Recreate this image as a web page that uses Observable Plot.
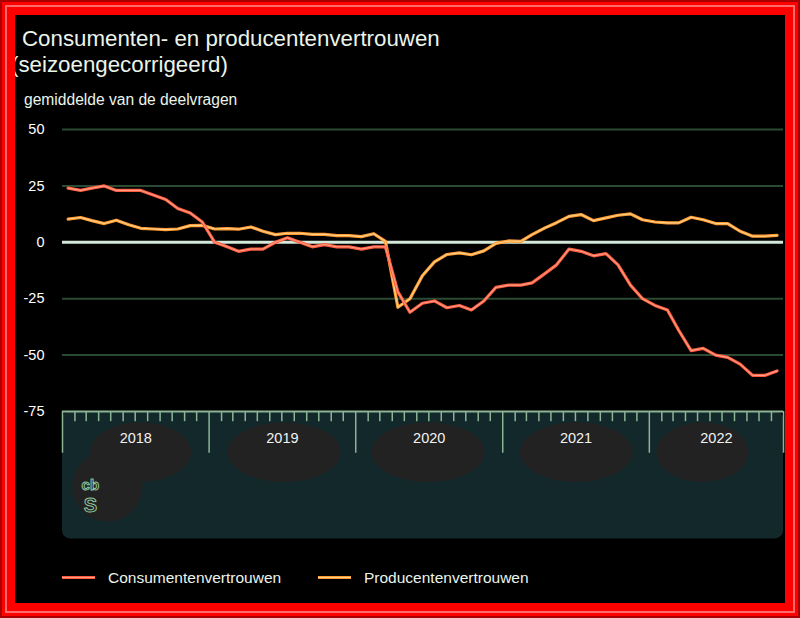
<!DOCTYPE html>
<html>
<head>
<meta charset="utf-8">
<script src="https://cdn.jsdelivr.net/npm/d3@7"></script>
<script src="https://cdn.jsdelivr.net/npm/@observablehq/plot@0.6"></script>
<style>
html, body { margin: 0; padding: 0; background: #000; }
#wrap { position: relative; width: 800px; height: 618px; background: #000; overflow: hidden; font-family: "Liberation Sans", Arial, sans-serif; color: #eaf4ea; }
#chart { position: absolute; left: 0; top: 0; }
.f { position: absolute; box-sizing: border-box; pointer-events: none; z-index: 10; background: transparent; }
.t { position: absolute; white-space: nowrap; z-index: 5; }
.sw { position: absolute; width: 33px; height: 1px; border-top: 1px solid; border-bottom: 1px solid; z-index: 5; }
</style>
</head>
<body>
<div id="wrap">
  <div id="chart"></div>
  <div class="t" style="left:22px;top:27px;font-size:22.3px;line-height:24px;">Consumenten- en producentenvertrouwen</div>
  <div class="t" style="left:11px;top:53px;font-size:22.3px;line-height:24px;">(seizoengecorrigeerd)</div>
  <div class="t" style="left:24px;top:91px;font-size:15.6px;line-height:17px;">gemiddelde van de deelvragen</div>
  <div id="legend"></div>
  <div class="f" style="left:0;top:0;width:800px;height:618px;border:2px solid #a80000;"></div>
  <div class="f" style="left:2px;top:2px;width:796px;height:614px;border:3px solid #ff0000;"></div>
  <div class="f" style="left:5px;top:5px;width:790px;height:608px;border:2px solid #ff6a6a;"></div>
  <div class="f" style="left:7px;top:7px;width:786px;height:604px;border:8px solid #ff0000;"></div>
</div>
<script>
// ---- data (Jan 2018 – Nov 2022, monthly) ----
const consumenten = [
  24, 23, 24, 25, 23, 23, 23, 21, 19, 15, 13, 9,
  0, -2, -4, -3, -3, 0, 2, 0, -2, -1, -2, -2,
  -3, -2, -2, -22, -31, -27, -26, -29, -28, -30, -26, -20,
  -19, -19, -18, -14, -10, -3, -4, -6, -5, -10, -19, -25,
  -28, -30, -39, -48, -47, -50, -51, -54, -59, -59, -57
];
const producenten = [
  10.3, 11, 9.6, 8.3, 9.8, 7.8, 6.2, 5.9, 5.6, 5.9, 7.4, 7.5,
  5.9, 6.1, 5.8, 6.8, 4.9, 3.4, 4, 4, 3.5, 3.5, 3, 3,
  2.5, 3.8, 0.4, -28.8, -25, -14.8, -8.7, -5.4, -4.7, -5.5, -3.8, -0.5,
  0.6, 0.4, 3.4, 6.3, 8.7, 11.5, 12.3, 9.6, 10.8, 12, 12.6, 10,
  9, 8.6, 8.6, 11.1, 10, 8.3, 8.3, 4.9, 2.7, 2.7, 3.1
];
const seriesNames = ["Consumentenvertrouwen", "Producentenvertrouwen"];
const years = ["2018", "2019", "2020", "2021", "2022"];
const yTicks = [-75, -50, -25, 0, 25, 50];
const gridValues = [-50, -25, 25, 50];

// colours
const cOuter = "#ff5a3c", cInner = "#ff9e86";
const pOuter = "#ff9a2e", pInner = "#ffd08c";

// ---- derived ----
const start = new Date(2018, 0, 1);
const end = new Date(2022, 11, 1);
const months = d3.timeMonth.range(start, end);
const rows = months.map((d, i) => ({
  date: new Date(d.getFullYear(), d.getMonth(), 15),
  c: consumenten[i],
  p: producenten[i]
}));
const monthTicks = d3.timeMonth.range(start, end).filter(d => d.getMonth() !== 0).map(d => ({d}));
const yearBounds = years.map(y => ({d: new Date(+y, 0, 1)})).concat([{d: end}]);
const yearLabels = years.map(y => {
  const a = new Date(+y, 0, 1), b = new Date(Math.min(new Date(+y + 1, 0, 1), end));
  return {label: y, d: new Date((+a + +b) / 2)};
});
// decorative dark blobs behind the year labels (fractions of each year)
const blobFrac = [[0.19, 0.88], [0.13, 0.90], [0.11, 0.88], [0.12, 0.89], [0.05, 0.68]];
const yr = (y, f) => new Date(+start + (new Date(+y + 1, 0, 1) - new Date(+y, 0, 1)) * f + (new Date(+y, 0, 1) - start));
const blobs = years.map((y, i) => ({x1: yr(y, blobFrac[i][0]), x2: yr(y, blobFrac[i][1]), y1: -80, y2: -106.5}));
blobs.push({x1: yr("2018", 0.07), x2: yr("2018", 0.55), y1: -93, y2: -124});
const band = [{x1: start, x2: end, y1: -75, y2: -131.5}];
const logo = [{d: yr("2018", 0.19), t: "cb", y: -107.5, s: 15}, {d: yr("2018", 0.19), t: "S", y: -116.5, s: 20}];

const chart = Plot.plot({
  width: 800,
  height: 618,
  marginTop: 129,
  marginBottom: 207,
  marginLeft: 62,
  marginRight: 17,
  style: {background: "transparent", color: "#ffffff", fontFamily: "Liberation Sans, Arial, sans-serif", fontSize: "14.5px", overflow: "visible"},
  x: {type: "time", domain: [start, end], axis: null},
  y: {domain: [-75, 50], ticks: yTicks, tickSize: 0, tickPadding: 18, label: null, tickFormat: d => String(d)},
  marks: [
    Plot.rect(band, {x1: "x1", x2: "x2", y1: "y1", y2: "y2", fill: "#13282a", rx: 8}),
    Plot.rect(blobs, {x1: "x1", x2: "x2", y1: "y1", y2: "y2", fill: "#222222", rx: 300, ry: 300}),
    Plot.ruleY(gridValues, {stroke: "#2b4a33", strokeWidth: 2}),
    Plot.ruleY([-75], {stroke: "#8cb596", strokeWidth: 2}),
    Plot.ruleX(monthTicks, {x: "d", y1: -75, y2: -79.5, stroke: "#8cb596", strokeWidth: 1.5}),
    Plot.ruleX(yearBounds, {x: "d", y1: -75, y2: -93.5, stroke: "#8cb596", strokeWidth: 1.5}),
    Plot.text(yearLabels, {x: "d", y: -86.9, text: "label", fill: "#f2f2f2", fontSize: 14.5}),
    Plot.text(logo, {x: "d", y: "y", text: "t", fontSize: "s", fill: "none", stroke: "#8fc49e", strokeWidth: 1, fontWeight: "bold"}),
    Plot.ruleY([0], {stroke: "#d3e8d8", strokeWidth: 3}),
    Plot.line(rows, {x: "date", y: "p", stroke: pOuter, strokeWidth: 3.2}),
    Plot.line(rows, {x: "date", y: "p", stroke: pInner, strokeWidth: 1.1}),
    Plot.line(rows, {x: "date", y: "c", stroke: cOuter, strokeWidth: 3.2}),
    Plot.line(rows, {x: "date", y: "c", stroke: cInner, strokeWidth: 1.1})
  ]
});
document.getElementById("chart").appendChild(chart);

// legend
const lg = document.getElementById("legend");
const items = [
  {name: seriesNames[0], outer: cOuter, inner: cInner, sx: 62, tx: 108},
  {name: seriesNames[1], outer: pOuter, inner: pInner, sx: 318, tx: 364}
];
for (const it of items) {
  const sw = document.createElement("div");
  sw.className = "sw";
  sw.style.left = it.sx + "px";
  sw.style.top = "576px";
  sw.style.background = it.inner;
  sw.style.borderColor = it.outer;
  lg.appendChild(sw);
  const t = document.createElement("div");
  t.className = "t";
  t.style.left = it.tx + "px";
  t.style.top = "569px";
  t.style.fontSize = "15.5px";
  t.style.lineHeight = "18px";
  t.textContent = it.name;
  lg.appendChild(t);
}
</script>
</body>
</html>
